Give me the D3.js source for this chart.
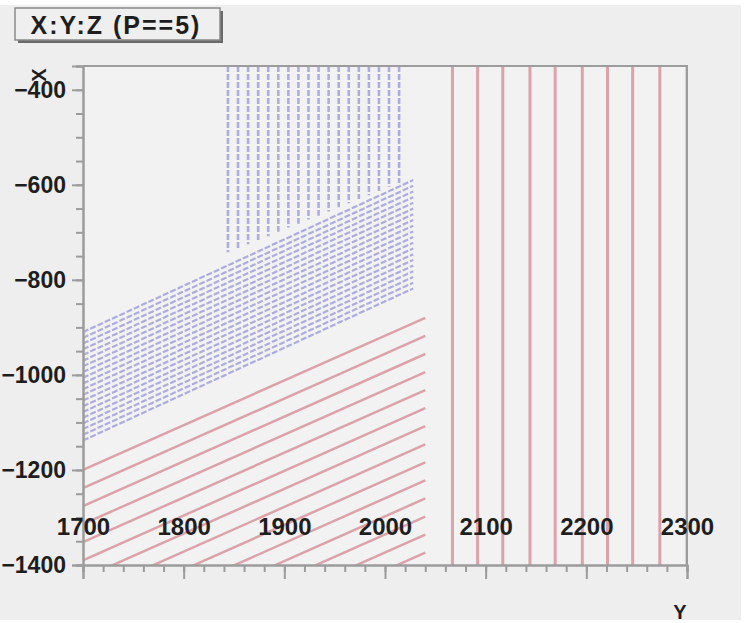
<!DOCTYPE html>
<html>
<head>
<meta charset="utf-8">
<script src="https://cdn.jsdelivr.net/npm/d3@7"></script>
<style>
  html, body { margin: 0; padding: 0; background: #ffffff; }
  svg { display: block; }
  text { font-family: "Liberation Sans", Arial, sans-serif; font-weight: bold; fill: #1e1e1e; }
</style>
</head>
<body>
<svg id="chart" width="751" height="623"></svg>
<script>
// ---- data (Y on horizontal axis, X on vertical axis) ----
const title = "X:Y:Z (P==5)";
const xTickValues = [1700, 1800, 1900, 2000, 2100, 2200, 2300];   // Y axis (horizontal)
const yTickValues = [-400, -600, -800, -1000, -1200, -1400];      // X axis (vertical)

// red vertical wires: Y position
const redVerticalY = [2067, 2092, 2117, 2144, 2169, 2196, 2221, 2246, 2273, 2300];

// red slanted wires: X at Y=1700 (start) and X at Y=2040 (end)
const redSlantY = [1700, 2040];
const redSlantStartX = [-1200, -1238, -1276, -1314, -1352, -1390, -1428, -1466, -1504, -1542, -1580, -1618, -1656, -1694];
const redSlantEndX   = [-880, -918, -956, -994, -1032, -1070, -1108, -1146, -1184, -1222, -1260, -1298, -1336, -1374];

// blue slanted wires: X at Y=1700 and at Y=2028
const blueSlantY = [1700, 2028];
const blueSlantStartX = [-910, -922, -934, -946, -958, -970, -982, -994, -1006, -1018, -1030, -1042, -1054, -1066, -1078, -1090, -1102, -1114, -1126, -1138];
const blueSlantEndX   = [-590, -602, -614, -626, -638, -650, -662, -674, -686, -698, -710, -722, -734, -746, -758, -770, -782, -794, -806, -818];

// blue vertical wires: Y position, lower X end (upper end at top of range)
const blueVerticalY    = [1844, 1854, 1864, 1874, 1884, 1894, 1904, 1914, 1924, 1934, 1944, 1954, 1964, 1974, 1984, 1994, 2004, 2014];
const blueVerticalLowX = [-742, -733, -725, -716, -708, -699, -690, -682, -673, -665, -656, -647, -639, -630, -622, -613, -604, -596];
const blueVerticalTopX = -350;

// ---- layout ----
const svg = d3.select("#chart");
const frame = { left: 83, right: 687, top: 66, bottom: 565 };
const x = d3.scaleLinear().domain([1700, 2300]).range([frame.left, frame.right]);
const y = d3.scaleLinear().domain([-1400, -350]).range([frame.bottom, frame.top]);

// canvas
svg.append("rect").attr("x", 0).attr("y", 5).attr("width", 741).attr("height", 615).attr("fill", "#eeeeee");

// frame fill
svg.append("rect").attr("x", frame.left).attr("y", frame.top)
  .attr("width", frame.right - frame.left).attr("height", frame.bottom - frame.top)
  .attr("fill", "#f2f2f2");

svg.append("clipPath").attr("id", "clip").append("rect")
  .attr("x", frame.left).attr("y", frame.top)
  .attr("width", frame.right - frame.left + 1).attr("height", frame.bottom - frame.top);

const plot = svg.append("g").attr("clip-path", "url(#clip)");

const blueColor = "#acacE2";
const redColor = "#dca2a9";

// blue vertical wires
plot.append("g").selectAll("line").data(blueVerticalY).join("line")
  .attr("x1", d => x(d)).attr("x2", d => x(d))
  .attr("y1", y(blueVerticalTopX)).attr("y2", (d, i) => y(blueVerticalLowX[i]))
  .attr("stroke", blueColor).attr("stroke-width", 2.6).attr("stroke-dasharray", "6,2");

// blue slanted wires
plot.append("g").selectAll("line").data(blueSlantStartX).join("line")
  .attr("x1", x(blueSlantY[0])).attr("y1", d => y(d))
  .attr("x2", x(blueSlantY[1])).attr("y2", (d, i) => y(blueSlantEndX[i]))
  .attr("stroke", blueColor).attr("stroke-width", 2.2).attr("stroke-dasharray", "6,2");

// red slanted wires
plot.append("g").selectAll("line").data(redSlantStartX).join("line")
  .attr("x1", x(redSlantY[0])).attr("y1", d => y(d))
  .attr("x2", x(redSlantY[1])).attr("y2", (d, i) => y(redSlantEndX[i]))
  .attr("stroke", redColor).attr("stroke-width", 2.5);

// red vertical wires
plot.append("g").selectAll("line").data(redVerticalY).join("line")
  .attr("x1", d => x(d)).attr("x2", d => x(d))
  .attr("y1", frame.top).attr("y2", frame.bottom)
  .attr("stroke", redColor).attr("stroke-width", 3);

// frame lines (top / right)
const axisColor = "#9c9c9c";
svg.append("path")
  .attr("d", `M${frame.left},${frame.top}H${frame.right}V${frame.bottom}`)
  .attr("fill", "none").attr("stroke", axisColor).attr("stroke-width", 2);

// ---- vertical axis (X) ----
const yMinor = svg.append("g").attr("transform", `translate(${frame.left},0)`)
  .call(d3.axisLeft(y).tickValues(y.ticks(20)).tickSize(7).tickFormat(""));
const yMajor = svg.append("g").attr("transform", `translate(${frame.left},0)`)
  .call(d3.axisLeft(y).tickValues(yTickValues).tickSize(11).tickPadding(6).tickFormat(d3.format("d")));
[yMinor, yMajor].forEach(g => {
  g.selectAll("path").attr("stroke", axisColor).attr("stroke-width", 2);
  g.selectAll("line").attr("stroke", axisColor).attr("stroke-width", 2);
});
yMajor.selectAll("text").attr("font-size", 23).attr("font-family", "Liberation Sans, Arial, sans-serif")
  .attr("font-weight", "bold").attr("fill", "#1e1e1e");

// ---- horizontal axis (Y) ----
const xMinor = svg.append("g").attr("transform", `translate(0,${frame.bottom})`)
  .call(d3.axisBottom(x).tickValues(x.ticks(30)).tickSize(7).tickFormat(""));
const xMajor = svg.append("g").attr("transform", `translate(0,${frame.bottom})`)
  .call(d3.axisBottom(x).tickValues(xTickValues).tickSize(14).tickFormat(d3.format("d")));
[xMinor, xMajor].forEach(g => {
  g.selectAll("path").attr("stroke", axisColor).attr("stroke-width", 2);
  g.selectAll("line").attr("stroke", axisColor).attr("stroke-width", 2);
});
xMajor.selectAll("text").attr("y", -38).attr("dy", "0.35em")
  .attr("font-size", 24).attr("font-family", "Liberation Sans, Arial, sans-serif")
  .attr("font-weight", "bold").attr("fill", "#1e1e1e");

// axis titles
svg.append("text").attr("x", 680).attr("y", 619).attr("text-anchor", "middle")
  .attr("font-size", 20).text("Y");
svg.append("text").attr("transform", "translate(46,75) rotate(-90)")
  .attr("text-anchor", "middle").attr("font-size", 20).text("X");

// title box
const tb = svg.append("g");
tb.append("rect").attr("x", 18).attr("y", 11).attr("width", 205).attr("height", 32).attr("fill", "#6a6a6a");
tb.append("rect").attr("x", 15).attr("y", 8).attr("width", 205).attr("height", 32)
  .attr("fill", "#efefef").attr("stroke", "#8a8a8a").attr("stroke-width", 1.5);
tb.append("text").attr("x", 116).attr("y", 34).attr("text-anchor", "middle")
  .attr("font-size", 25).attr("letter-spacing", 2).text(title);
</script>
</body>
</html>
